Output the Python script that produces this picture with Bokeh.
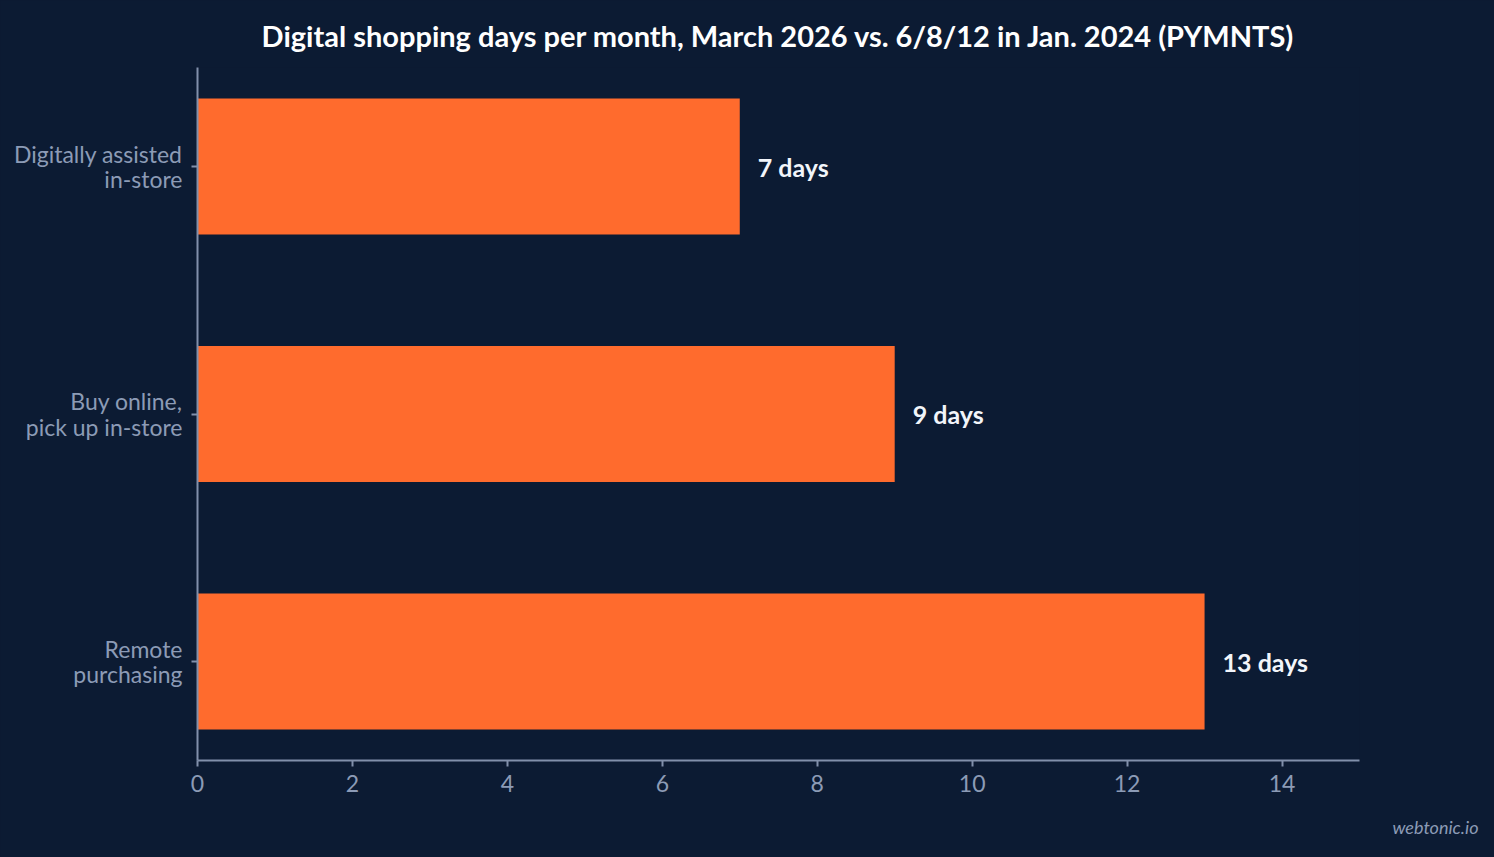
from bokeh.plotting import figure
from bokeh.models import Range1d, FixedTicker, Title, ColumnDataSource
from bokeh.core.properties import value
from bokeh.embed import file_html
from bokeh.resources import INLINE

categories = ["Digitally assisted\nin-store", "Buy online,\npick up in-store", "Remote\npurchasing"]
days = [7, 9, 13]
positions = [2, 1, 0]
value_labels = ["7 days", "9 days", "13 days"]
x_ticks = [0, 2, 4, 6, 8, 10, 12, 14]

BG = "#0c1b33"
BAR = "#ff6b2d"
AXIS = "#8190ab"
LABEL = "#8c9bb6"

p = figure(width=1494, height=857, output_backend="svg", toolbar_location=None,
           x_range=Range1d(0, 15), y_range=Range1d(-0.4, 2.4),
           min_border_left=197, min_border_right=135, min_border_bottom=97, min_border_top=67)
p.background_fill_color = BG
p.border_fill_color = BG
p.outline_line_color = None
p.xgrid.visible = False
p.ygrid.visible = False

src = ColumnDataSource(dict(y=positions, right=days, lab=value_labels, lx=days))
p.hbar(y="y", left=0, right="right", height=0.55, source=src, fill_color=BAR, line_color=None)
p.text(x="lx", y="y", text="lab", source=src, x_offset=18, text_align="left", text_baseline="middle",
       text_font=value("Lato"), text_font_style="bold", text_font_size="25px", text_color="#f2f5fa")

p.title.text = "Digital shopping days per month, March 2026 vs. 6/8/12 in Jan. 2024 (PYMNTS)"
p.title.align = "center"
p.title.vertical_align = "bottom"
p.title.text_font = "Lato"
p.title.text_font_style = "bold"
p.title.text_font_size = "29px"
p.title.text_color = "#ffffff"
p.title.standoff = 30

for ax in (p.xaxis[0], p.yaxis[0]):
    ax.axis_line_color = AXIS
    ax.axis_line_width = 2
    ax.major_tick_line_color = AXIS
    ax.major_tick_line_width = 2
    ax.major_tick_out = 6
    ax.major_tick_in = 0
    ax.minor_tick_line_color = None
    ax.major_label_text_font = "Lato"
    ax.major_label_text_font_size = "23px"
    ax.major_label_text_color = LABEL

p.xaxis.ticker = FixedTicker(ticks=x_ticks)
p.xaxis.major_label_standoff = 8
p.yaxis.ticker = FixedTicker(ticks=positions)
p.yaxis.major_label_overrides = {pos: lab for pos, lab in zip(positions, categories)}
p.yaxis.major_label_standoff = 9
p.yaxis.major_label_text_line_height = 0.92

wm = Title(text="webtonic.io", align="right", offset=-119, standoff=38,
           text_font="Lato", text_font_style="italic", text_font_size="18px",
           text_color=LABEL)
p.add_layout(wm, "below")

html = file_html(p, INLINE)
html = html.replace("</head>", "<style>html, body { background: %s; }</style></head>" % BG, 1)
open("out.html", "w").write(html)
